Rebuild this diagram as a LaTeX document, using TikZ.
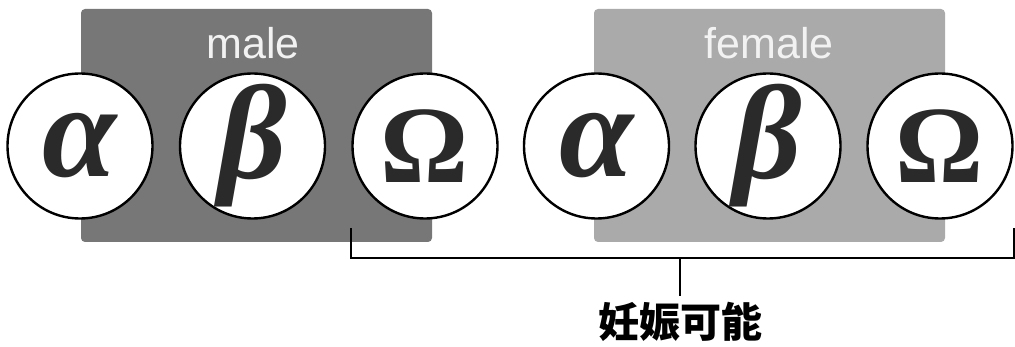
\documentclass[tikz,border=0pt]{standalone}
\usepackage{fontspec}
\setmainfont{Liberation Serif}
\newfontfamily\grouplabelfont{Liberation Sans}
\newfontfamily\cjkfont{Noto Sans CJK JP}
\usetikzlibrary{positioning}

\definecolor{maleGray}{HTML}{777777}
\definecolor{femaleGray}{HTML}{AAAAAA}
\definecolor{labelWhite}{HTML}{F2F2F2}
\definecolor{glyphDark}{HTML}{2A2A2A}

\begin{document}
\begin{tikzpicture}[x=1pt,y=1pt]
			\tikzstyle{every node}+=[inner sep=0pt]
			\tikzstyle{groupbox}=[rectangle, rounded corners=4pt, minimum width=351pt, minimum height=233pt]
			\tikzstyle{grouplabel}=[text=labelWhite, font=\grouplabelfont\fontsize{43}{43}\selectfont]
			\tikzstyle{chromo}=[circle, draw=black, line width=2.4pt, fill=white, minimum size=145pt, text=glyphDark]
			\tikzstyle{greek}=[font=\bfseries\itshape\fontsize{134}{134}\selectfont]
			\tikzstyle{omega}=[font=\bfseries\fontsize{110}{110}\selectfont]
			\tikzstyle{bracket}=[black, line width=2.3pt]
			\useasboundingbox (0,0) rectangle (1015,-347);
			% groups
			\node [groupbox, fill=maleGray] (malebox) at (256.5,-125.5) {};
			\node [grouplabel] at (253,-43) {male};
			\node [groupbox, fill=femaleGray] (femalebox) at (769.5,-125.5) {};
			\node [grouplabel] at (769,-43) {female};
			% chromosomes
			\node [chromo, greek] (malea) at (80,-146) {α};
			\node [chromo, greek] (maleb) at (252.5,-146) {β};
			\node [chromo, omega] (maleo) at (425,-146) {Ω};
			\node [chromo, greek] (femalea) at (596.5,-146) {α};
			\node [chromo, greek] (femaleb) at (768,-146) {β};
			\node [chromo, omega] (femaleo) at (940,-146) {Ω};
			% bracket
			\coordinate (brtop) at (0,-228);
			\coordinate (brbase) at (0,-258);
			\node [font=\cjkfont\bfseries\fontsize{41}{41}\selectfont, inner sep=6pt] (fertile) at (680,-322) {妊娠可能};
			\draw [bracket] (maleo.west |- brtop) -- (maleo.west |- brbase) -- (femaleo.east |- brbase) -- (femaleo.east |- brtop);
			\draw [bracket] (fertile.north |- brbase) -- (fertile.north);
		\end{tikzpicture}
\end{document}
